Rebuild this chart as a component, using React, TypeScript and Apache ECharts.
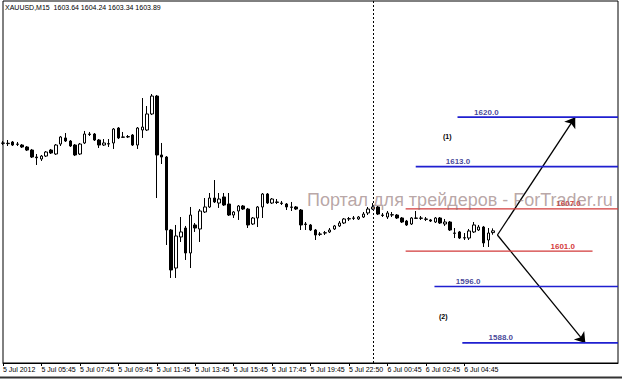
import React, { useEffect, useRef } from "react";
import * as echarts from "echarts";

// 15-minute XAUUSD bars, [open, close, low, high]
const ohlc: number[][] = [
  [1616.34, 1616.3, 1616.05, 1616.62],
  [1616.3, 1616.25, 1615.91, 1616.76],
  [1616.48, 1616.05, 1615.91, 1616.62],
  [1616.19, 1616.15, 1615.91, 1616.48],
  [1616.05, 1615.77, 1615.63, 1616.19],
  [1615.77, 1615.34, 1615.2, 1615.91],
  [1615.34, 1614.35, 1614.21, 1615.49],
  [1614.35, 1614.25, 1613.22, 1614.78],
  [1614.07, 1614.49, 1613.79, 1614.64],
  [1614.49, 1615.06, 1614.35, 1615.2],
  [1615.34, 1614.92, 1614.78, 1615.49],
  [1614.78, 1616.05, 1614.64, 1616.19],
  [1616.19, 1617.19, 1615.91, 1617.33],
  [1617.05, 1616.62, 1616.48, 1617.75],
  [1616.62, 1615.91, 1615.77, 1616.76],
  [1616.05, 1614.64, 1614.49, 1616.19],
  [1614.78, 1616.19, 1614.64, 1616.34],
  [1616.34, 1617.61, 1616.19, 1618.04],
  [1617.61, 1617.55, 1617.33, 1617.9],
  [1617.61, 1616.76, 1616.62, 1617.75],
  [1616.76, 1616.05, 1615.63, 1616.9],
  [1616.05, 1616.34, 1615.91, 1616.9],
  [1616.19, 1616.25, 1615.77, 1616.9],
  [1616.34, 1618.32, 1615.49, 1618.46],
  [1618.46, 1617.05, 1616.9, 1618.6],
  [1617.19, 1617.15, 1617.05, 1617.9],
  [1617.19, 1617.25, 1617.05, 1617.47],
  [1617.47, 1616.05, 1615.91, 1617.61],
  [1616.05, 1618.46, 1615.49, 1618.6],
  [1618.18, 1618.6, 1617.05, 1622.71],
  [1618.18, 1620.45, 1618.04, 1621.58],
  [1620.45, 1622.99, 1620.3, 1623.28],
  [1622.99, 1614.64, 1608.54, 1623.14],
  [1614.64, 1614.35, 1613.36, 1616.34],
  [1614.35, 1604.01, 1601.88, 1614.49],
  [1604.01, 1598.34, 1597.21, 1604.15],
  [1598.62, 1603.16, 1597.21, 1604.72],
  [1603.02, 1603.73, 1602.31, 1605.85],
  [1604.29, 1600.75, 1599.76, 1604.58],
  [1600.75, 1606.13, 1598.62, 1607.27],
  [1604.72, 1604.29, 1603.73, 1605.0],
  [1604.15, 1606.7, 1602.31, 1606.98],
  [1606.56, 1607.27, 1606.42, 1608.54],
  [1607.27, 1608.54, 1607.13, 1609.25],
  [1608.54, 1607.98, 1607.83, 1611.09],
  [1607.83, 1608.4, 1607.13, 1609.25],
  [1608.69, 1607.55, 1607.41, 1609.25],
  [1607.69, 1606.13, 1605.99, 1609.25],
  [1606.13, 1606.56, 1605.71, 1606.7],
  [1606.7, 1607.41, 1605.43, 1607.55],
  [1607.41, 1606.98, 1606.84, 1607.55],
  [1606.98, 1604.72, 1604.29, 1607.13],
  [1604.86, 1605.71, 1604.72, 1605.85],
  [1605.71, 1607.27, 1604.43, 1607.41],
  [1607.27, 1609.11, 1605.71, 1609.25],
  [1609.11, 1607.83, 1607.69, 1609.25],
  [1607.83, 1608.4, 1607.69, 1608.54],
  [1607.98, 1607.92, 1607.69, 1608.4],
  [1607.83, 1607.78, 1607.55, 1608.12],
  [1607.69, 1607.27, 1606.84, 1607.83],
  [1607.27, 1607.22, 1606.7, 1607.98],
  [1607.27, 1606.98, 1606.84, 1607.41],
  [1606.84, 1604.72, 1604.01, 1606.98],
  [1604.86, 1604.8, 1604.01, 1605.14],
  [1604.72, 1604.01, 1603.87, 1604.86],
  [1604.01, 1603.3, 1602.59, 1604.15],
  [1603.44, 1603.4, 1603.16, 1603.73],
  [1603.58, 1603.62, 1603.3, 1603.87],
  [1603.73, 1604.01, 1603.58, 1604.29],
  [1604.15, 1604.58, 1604.01, 1604.72],
  [1604.58, 1605.0, 1604.43, 1605.28],
  [1605.0, 1605.57, 1604.86, 1605.71],
  [1605.57, 1605.62, 1605.28, 1605.85],
  [1605.71, 1605.66, 1605.43, 1605.99],
  [1605.57, 1605.85, 1605.43, 1605.99],
  [1605.85, 1606.27, 1605.71, 1606.56],
  [1606.42, 1606.98, 1606.13, 1607.27],
  [1606.98, 1607.27, 1606.84, 1607.83],
  [1607.27, 1606.27, 1606.13, 1607.41],
  [1606.13, 1606.08, 1605.85, 1606.42],
  [1605.85, 1606.42, 1605.57, 1606.7],
  [1606.13, 1606.18, 1605.85, 1606.56],
  [1606.13, 1605.71, 1605.57, 1606.27],
  [1605.71, 1605.14, 1605.0, 1605.85],
  [1605.28, 1604.72, 1604.58, 1605.43],
  [1604.86, 1605.71, 1604.72, 1605.85],
  [1605.71, 1605.66, 1605.57, 1606.7],
  [1605.66, 1605.71, 1605.43, 1605.99],
  [1605.57, 1605.52, 1605.28, 1605.85],
  [1605.43, 1605.28, 1605.14, 1605.57],
  [1605.14, 1605.71, 1605.0, 1605.85],
  [1605.71, 1605.0, 1604.86, 1605.85],
  [1604.86, 1605.14, 1604.58, 1605.57],
  [1605.14, 1604.01, 1603.87, 1605.28],
  [1603.58, 1603.54, 1602.87, 1604.29],
  [1603.73, 1602.87, 1602.73, 1603.87],
  [1602.87, 1602.92, 1602.59, 1603.58],
  [1602.87, 1603.87, 1602.59, 1604.15],
  [1603.73, 1604.72, 1603.58, 1605.14],
  [1604.01, 1604.43, 1603.87, 1604.72],
  [1604.43, 1602.17, 1601.6, 1604.58],
  [1602.59, 1603.58, 1601.6, 1604.29],
  [1603.64, 1603.89, 1603.34, 1604.24],
];

const SLOT_COUNT = 129; // bars + empty right shift
const TICK_STEP = 8;
const tickLabels = [
  "5 Jul 2012", "5 Jul 05:45", "5 Jul 07:45", "5 Jul 09:45", "5 Jul 11:45",
  "5 Jul 13:45", "5 Jul 15:45", "5 Jul 17:45", "5 Jul 19:45", "5 Jul 22:50",
  "6 Jul 00:45", "6 Jul 02:45", "6 Jul 04:45",
];
const separatorBar = 77; // 6 Jul 00:00

// target / support-resistance levels
const levelValues = [1620, 1613, 1607, 1601, 1596, 1588];
const levelKinds = ["target", "target", "sr", "sr", "target", "target"];
const levelFromBar = [94.6, 85.9, 83.8, 83.8, 89.8, 95.6];
const levelToBar = [128, 128, 128, 122.7, 128, 128];
const levelLabelBar = [100.6, 94.7, 117.7, 116.5, 96.8, 103.6];

// scenario arrows [bar, price]
const arrowStart = [102.9, 1603.3];
const arrowEnds = [
  [119.1, 1620],
  [121.2, 1588],
];

const Y_MIN = 1585.16;
const Y_MAX = 1636.46;

export default function App() {
  const ref = useRef<HTMLDivElement>(null);
  useEffect(() => {
    document.body.style.margin = "0";
    const chart = echarts.init(ref.current!, null, { renderer: "svg" });
    const slots = Array.from({ length: SLOT_COUNT }, (_, i) => String(i));
    const isTick = (i: number) => i % TICK_STEP === 0 && i / TICK_STEP < tickLabels.length;
    const blueLine = "#1f1fd0";
    const redLine = "#d23a3a";
    const levelSeries = levelValues.map((v, k) => ({
      type: "line",
      xAxisIndex: 1,
      yAxisIndex: 0,
      data: [
        [levelFromBar[k], v],
        [levelToBar[k], v],
      ],
      symbol: "none",
      silent: true,
      z: 5,
      lineStyle: {
        color: levelKinds[k] === "target" ? blueLine : redLine,
        width: levelKinds[k] === "target" ? 1.7 : 1.2,
      },
    }));
    chart.setOption({
      animation: false,
      backgroundColor: "#ffffff",
      grid: {
        left: 2,
        right: 4,
        top: 1,
        bottom: 17,
        show: true,
        borderColor: "#000",
        borderWidth: 1,
        backgroundColor: "transparent",
      },
      xAxis: [
        {
          type: "category",
          data: slots,
          boundaryGap: false,
          axisLine: { show: true, lineStyle: { color: "#000", width: 1 } },
          axisTick: {
            show: true,
            interval: (i: number) => isTick(i),
            length: 3,
            lineStyle: { color: "#000" },
          },
          axisLabel: {
            interval: (i: number) => isTick(i),
            formatter: (_v: string, i: number) => tickLabels[i / TICK_STEP] ?? "",
            align: "left",
            margin: 3,
            fontSize: 7,
            color: "#000",
            fontFamily: "'Liberation Sans Narrow', 'Liberation Sans', Arial, sans-serif",
          },
          splitLine: { show: false },
        },
        {
          type: "value",
          min: 0,
          max: SLOT_COUNT - 1,
          show: false,
        },
      ],
      yAxis: {
        type: "value",
        min: Y_MIN,
        max: Y_MAX,
        show: false,
        splitLine: { show: false },
      },
      series: [
        {
          type: "candlestick",
          xAxisIndex: 0,
          data: ohlc,
          barWidth: 3,
          z: 3,
          itemStyle: {
            color: "#ffffff",
            color0: "#000000",
            borderColor: "#000000",
            borderColor0: "#000000",
            borderWidth: 1,
          },
        },
        ...levelSeries,
        {
          type: "scatter",
          xAxisIndex: 1,
          symbolSize: 0,
          silent: true,
          z: 6,
          data: levelValues.map((v, k) => ({
            value: [levelLabelBar[k], v],
            label: {
              color: levelKinds[k] === "target" ? "#12127e" : "#c80000",
            },
          })),
          label: {
            show: true,
            position: "top",
            distance: 1,
            formatter: (p: any) => p.value[1].toFixed(1),
            fontSize: 8,
            fontWeight: "bold",
            fontFamily: "'Liberation Sans', Arial, sans-serif",
          },
        },
        {
          type: "line",
          xAxisIndex: 1,
          data: [arrowStart],
          symbol: "none",
          silent: true,
          z: 7,
          lineStyle: { width: 0 },
          markLine: {
            silent: true,
            symbol: ["none", "arrow"],
            symbolSize: 10,
            label: { show: false },
            lineStyle: { color: "#000", width: 1.3, type: "solid" },
            data: arrowEnds.map((e) => [
              { coord: arrowStart },
              { coord: e },
            ]),
          },
        },
        {
          type: "line",
          xAxisIndex: 0,
          data: [],
          symbol: "none",
          silent: true,
          z: 2,
          markLine: {
            silent: true,
            symbol: ["none", "none"],
            label: { show: false },
            lineStyle: { color: "#000", width: 1, type: [2, 2] },
            data: [{ xAxis: separatorBar }],
          },
        },
      ],
      graphic: [
        {
          type: "text",
          left: 5,
          top: 4,
          z: 20,
          style: {
            text: "XAUUSD,M15  1603.64 1604.24 1603.34 1603.89",
            fontSize: 7,
            fill: "#000",
            fontFamily: "'Liberation Sans Narrow', 'Liberation Sans', Arial, sans-serif",
          },
        },
        {
          type: "text",
          left: 443,
          top: 133,
          z: 20,
          style: { text: "(1)", fontSize: 7, fontWeight: "bold", fill: "#000", fontFamily: "'Liberation Sans', Arial, sans-serif" },
        },
        {
          type: "text",
          left: 439,
          top: 313,
          z: 20,
          style: { text: "(2)", fontSize: 7, fontWeight: "bold", fill: "#000", fontFamily: "'Liberation Sans', Arial, sans-serif" },
        },
        {
          type: "text",
          left: 307,
          top: 191,
          z: 30,
          style: {
            text: "Портал для трейдеров - ForTrader.ru",
            fontSize: 18,
            fill: "rgba(140, 110, 110, 0.62)",
            fontFamily: "'Liberation Sans', Arial, sans-serif",
          },
        },
        {
          type: "line",
          z: 20,
          shape: { x1: 0, y1: 377.5, x2: 622, y2: 377.5 },
          style: { stroke: "#333", lineWidth: 2 },
        },
      ],
    });
    return () => chart.dispose();
  }, []);
  return <div ref={ref} style={{ width: 622, height: 380 }} />;
}
